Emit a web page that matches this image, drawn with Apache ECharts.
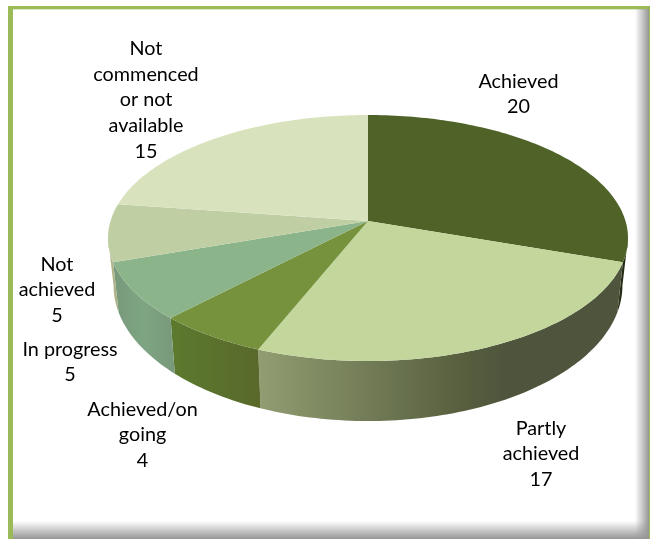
<!DOCTYPE html>
<html>
<head>
<meta charset="utf-8">
<style>
html, body { margin: 0; padding: 0; background: #fff; }
#chart { width: 651px; height: 539px; }
</style>
<script src="https://cdn.jsdelivr.net/npm/echarts@6/dist/echarts.min.js"></script>
</head>
<body>
<div id="chart"></div>
<script>
// Assessment outcomes, clockwise from twelve o'clock.
var categories = ['Achieved', 'Partly\nachieved', 'Achieved/on\ngoing', 'In progress', 'Not\nachieved', 'Not\ncommenced\nor not\navailable'];
var values = [20, 17, 4, 5, 5, 15];

var topColors = ['#4F6228', '#C3D69B', '#76923C', '#8BB48A', '#C0CFA3', '#D8E3BD'];
var wallStops = [
  [[0, '#2A3318'], [1, '#1E2612']],
  [[0, '#929D72'], [0.55, '#58603F'], [0.68, '#4E553C'], [1, '#4E553C']],
  [[0, '#5C7A2E'], [1, '#59692B']],
  [[0, '#78997B'], [0.5, '#7EA582'], [1, '#78987A']],
  [[0, '#B4B88F'], [1, '#A9AF86']],
  [[0, '#D8E3BD'], [1, '#D8E3BD']]
];
// Centre of each text block, in page pixels.
var labelX = [518.5, 541, 142.5, 70, 57, 146];
var labelY = [94, 454, 435, 362, 290, 100];

// Perspective disc: the same projection for the upper and lower faces,
// each with its own hub height and depth scale.
var HUB_X = 368;
var PERSPECTIVE = 0.1382;
var upperFace = { a: 257.5, b: 120.65, hubY: 221 };
var lowerFace = { a: 252, b: 133, hubY: 266.7 };

function project(face, theta) {
  var w = 1 + PERSPECTIVE * Math.cos(theta);
  return [HUB_X + face.a * Math.sin(theta) / w, face.hubY - face.b * Math.cos(theta) / w];
}
function arc(face, from, to) {
  var pts = [];
  var n = Math.max(2, Math.ceil(Math.abs(to - from) / 0.02));
  for (var i = 0; i <= n; i++) pts.push(project(face, from + (to - from) * i / n));
  return pts;
}

var total = values.reduce(function (s, v) { return s + v; }, 0);
var rightLimb = Math.acos(-PERSPECTIVE);
var leftLimb = 2 * Math.PI - rightLimb;

function renderSlice(params, api) {
  var idx = params.dataIndex;
  var before = 0;
  for (var i = 0; i < idx; i++) before += values[i];
  var start = before / total * 2 * Math.PI;
  var end = (before + api.value(0)) / total * 2 * Math.PI;
  var children = [];

  // Side wall: only the part of the rim facing the viewer.
  var wallFrom = Math.max(start, rightLimb);
  var wallTo = Math.min(end, leftLimb);
  if (wallTo > wallFrom) {
    children.push({
      type: 'polygon',
      z2: 1,
      shape: { points: arc(upperFace, wallFrom, wallTo).concat(arc(lowerFace, wallTo, wallFrom)) },
      style: {
        fill: {
          type: 'linear', x: 0, y: 0, x2: 1, y2: 0,
          colorStops: wallStops[idx].map(function (s) { return { offset: s[0], color: s[1] }; })
        }
      }
    });
  }

  // Upper face of the wedge.
  children.push({
    type: 'polygon',
    z2: 2,
    shape: { points: [[HUB_X, upperFace.hubY]].concat(arc(upperFace, start, end)) },
    style: { fill: topColors[idx] }
  });

  children.push({
    type: 'text',
    z2: 3,
    style: {
      text: categories[idx] + '\n' + api.value(0),
      x: labelX[idx],
      y: labelY[idx],
      align: 'center',
      verticalAlign: 'middle',
      font: '19.8px Lato',
      lineHeight: 25.7,
      fill: '#000'
    }
  });
  return { type: 'group', children: children };
}

var chart = echarts.init(document.getElementById('chart'), null, { renderer: 'canvas' });
chart.setOption({
  animation: false,
  graphic: [
    { type: 'rect', z: -10, shape: { x: 8, y: 6, width: 642, height: 533 }, style: { fill: '#9BBB59' } },
    { type: 'rect', z: -9, shape: { x: 13, y: 9, width: 636, height: 530 }, style: { fill: '#fff' } },
    { type: 'rect', z: -8, shape: { x: 13, y: 9, width: 636, height: 1 }, style: { fill: '#DDE9C6' } },
    {
      type: 'rect', z: -7, shape: { x: 13, y: 521, width: 636, height: 18 },
      style: { fill: { type: 'linear', x: 0, y: 0, x2: 0, y2: 1, colorStops: [{ offset: 0, color: 'rgba(150,150,150,0)' }, { offset: 1, color: 'rgba(150,150,150,1)' }] } }
    },
    {
      type: 'rect', z: -7, shape: { x: 635, y: 9, width: 14, height: 530 },
      style: { fill: { type: 'linear', x: 0, y: 0, x2: 1, y2: 0, colorStops: [{ offset: 0, color: 'rgba(150,150,150,0)' }, { offset: 1, color: 'rgba(150,150,150,1)' }] } }
    }
  ],
  series: [{
    type: 'custom',
    coordinateSystem: 'none',
    renderItem: renderSlice,
    data: values.map(function (v, i) { return { name: categories[i], value: [v] }; })
  }]
});
</script>
</body>
</html>
